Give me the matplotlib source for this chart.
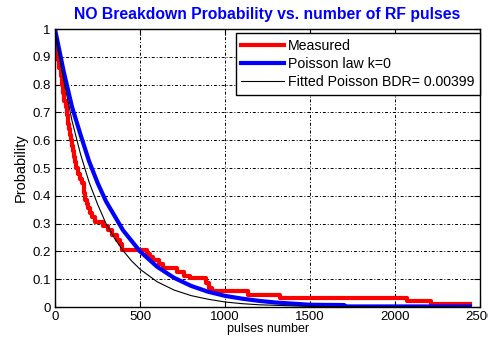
import matplotlib
matplotlib.use("Agg")
import matplotlib.pyplot as plt

plt.rcParams['font.family'] = ['Liberation Sans', 'DejaVu Sans']

# Measured survival (step curve)
meas_x = [0, 8, 16, 25, 33, 40, 48, 55, 62, 70, 76, 82, 88, 94, 100, 105, 112, 118,
          126, 135, 146, 157, 168, 176, 186, 195, 205, 216, 235, 282, 313, 335,
          362, 380, 394, 540, 560, 578, 610, 637, 720, 760, 794, 890, 905, 925,
          1135, 1320, 2070, 2210, 2440]
meas_y = [0.95, 0.92, 0.89, 0.86, 0.83, 0.80, 0.77, 0.74, 0.72, 0.69, 0.66, 0.64,
          0.62, 0.60, 0.58, 0.56, 0.54, 0.52, 0.50, 0.48, 0.46, 0.445, 0.41, 0.385,
          0.37, 0.355, 0.34, 0.325, 0.307, 0.29, 0.277, 0.26, 0.241, 0.225, 0.205,
          0.19, 0.18, 0.169, 0.155, 0.14, 0.125, 0.112, 0.104, 0.085, 0.07, 0.057,
          0.043, 0.031, 0.02, 0.012, 0.012]

# Poisson law k=0
pois_x = [0, 50, 100, 150, 200, 250, 300, 400, 500, 600, 700, 800, 900, 1000,
          1100, 1200, 1300, 1400, 1500, 1700, 1710, 2440]
pois_y = [1.0, 0.85, 0.72, 0.62, 0.525, 0.447, 0.38, 0.276, 0.2, 0.145, 0.105,
          0.076, 0.055, 0.04, 0.03, 0.022, 0.016, 0.012, 0.008, 0.007, 0.002, 0.002]

# Fitted Poisson, BDR = 0.00399
fit_x = [0, 50, 100, 150, 200, 250, 300, 350, 400, 450, 500, 600, 700, 800, 900,
         1000, 1100, 1200, 1300, 1400, 1500, 1700, 2000, 2440]
fit_y = [1.0, 0.82, 0.67, 0.55, 0.45, 0.37, 0.30, 0.247, 0.203, 0.166, 0.136,
         0.091, 0.061, 0.041, 0.028, 0.018, 0.012, 0.008, 0.006, 0.004, 0.0025,
         0.001, 0.0003, 0.0001]

xticks = [0, 500, 1000, 1500, 2000, 2500]
yticks = [0, 0.1, 0.2, 0.3, 0.4, 0.5, 0.6, 0.7, 0.8, 0.9, 1]
ytick_labels = ['0', '0.1', '0.2', '0.3', '0.4', '0.5', '0.6', '0.7', '0.8', '0.9', '1']

fig = plt.figure(figsize=(4.89, 3.41), dpi=100)
ax = fig.add_axes([0.1125, 0.0997, 0.8695, 0.815])

ax.step(meas_x, meas_y, where='post', color='red', lw=3.0, label='Measured')
ax.plot(pois_x, pois_y, color='blue', lw=3.0, label='Poisson law k=0')
ax.plot(fit_x, fit_y, color='black', lw=0.8, label='Fitted Poisson BDR= 0.00399')

ax.set_xlim(0, 2500)
ax.set_ylim(0, 1)
ax.set_xticks(xticks)
ax.set_yticks(yticks)
ax.set_yticklabels(ytick_labels)
ax.tick_params(direction='in', top=True, right=True, length=4, labelsize=9.5,
               pad=3)
ax.grid(True, color='black', linestyle=(0, (1, 2, 3, 2)), linewidth=0.7)
for s in ax.spines.values():
    s.set_linewidth(1.0)

ax.set_title('NO Breakdown Probability vs. number of RF pulses', color='blue',
             fontweight='bold', fontsize=11.3, pad=7)
ax.set_ylabel('Probability', fontsize=10.5, labelpad=3)
ax.set_xlabel('pulses number', fontsize=9, labelpad=0)

leg = ax.legend(loc='upper right', bbox_to_anchor=(1.0, 0.985), fontsize=10.2,
                fancybox=False, edgecolor='black', framealpha=1,
                handlelength=3.0, handletextpad=0.3, labelspacing=0.3,
                borderpad=0.4, borderaxespad=0.0)
leg.get_frame().set_linewidth(1.0)

fig.savefig('out.png', dpi=100)
